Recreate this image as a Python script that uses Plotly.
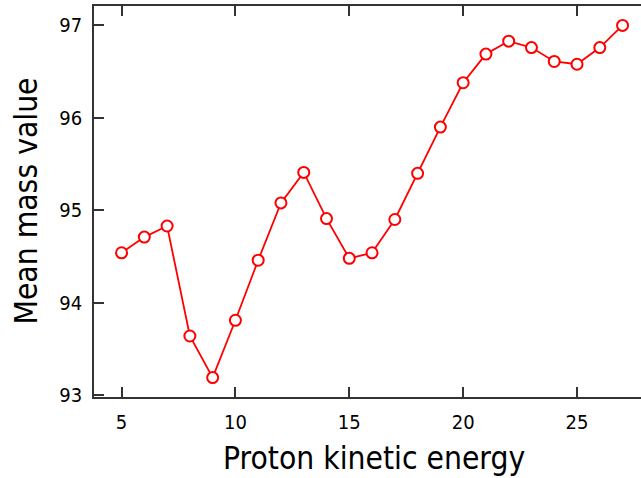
import plotly.graph_objects as go

energy = [5, 6, 7, 8, 9, 10, 11, 12, 13, 14, 15, 16, 17, 18, 19, 20, 21, 22, 23, 24, 25, 26, 27]
mean_mass = [94.54, 94.71, 94.83, 93.64, 93.19, 93.81, 94.46, 95.08, 95.41, 94.91, 94.48, 94.54,
             94.90, 95.40, 95.90, 96.38, 96.69, 96.83, 96.76, 96.61, 96.58, 96.76, 97.00]
x_ticks = [5, 10, 15, 20, 25]
y_ticks = [93, 94, 95, 96, 97]
x_title = "Proton kinetic energy"
y_title = "Mean mass value"

FONT = "DejaVu Sans Condensed, DejaVu Sans, sans-serif"
AX = "#333333"

fig = go.Figure()
fig.add_trace(go.Scatter(
    x=energy, y=mean_mass, mode="lines+markers",
    line=dict(color="#ff0000", width=1.8),
    marker=dict(symbol="circle", size=11, color="white", line=dict(color="#ff0000", width=2)),
    showlegend=False, cliponaxis=False,
))

fig.update_layout(
    width=641, height=478,
    margin=dict(l=94, r=0, t=6, b=81),
    paper_bgcolor="white", plot_bgcolor="white",
    font=dict(family=FONT, color="black"),
    xaxis=dict(range=[3.79, 27.81], tickvals=x_ticks, ticks="inside", ticklen=10,
               tickwidth=1.5, tickcolor=AX, showline=True, linecolor=AX, linewidth=1.5,
               mirror="ticks", showgrid=False, zeroline=False,
               tickfont=dict(size=20, family=FONT), ticklabelstandoff=6),
    yaxis=dict(range=[92.98, 97.21], tickvals=y_ticks, ticks="inside", ticklen=10,
               tickwidth=1.5, tickcolor=AX, showline=True, linecolor=AX, linewidth=1.5,
               mirror=False, showgrid=False, zeroline=False,
               tickfont=dict(size=20, family=FONT), ticklabelstandoff=6),
    yaxis2=dict(range=[92.98, 97.21], tickvals=y_ticks, overlaying="y", side="right",
                ticks="inside", ticklen=3, tickwidth=1.5, tickcolor=AX,
                showticklabels=False, showline=False, showgrid=False, zeroline=False),
    annotations=[
        dict(text=x_title, xref="paper", yref="paper", x=0.5125, y=-0.155,
             xanchor="center", yanchor="middle", showarrow=False,
             font=dict(size=31.5, family=FONT, color="black")),
        dict(text=y_title, xref="paper", yref="paper", x=-0.126, y=0.5,
             xanchor="center", yanchor="middle", showarrow=False, textangle=-90,
             font=dict(size=31.5, family=FONT, color="black")),
    ],
)

fig.write_html("out.html")
